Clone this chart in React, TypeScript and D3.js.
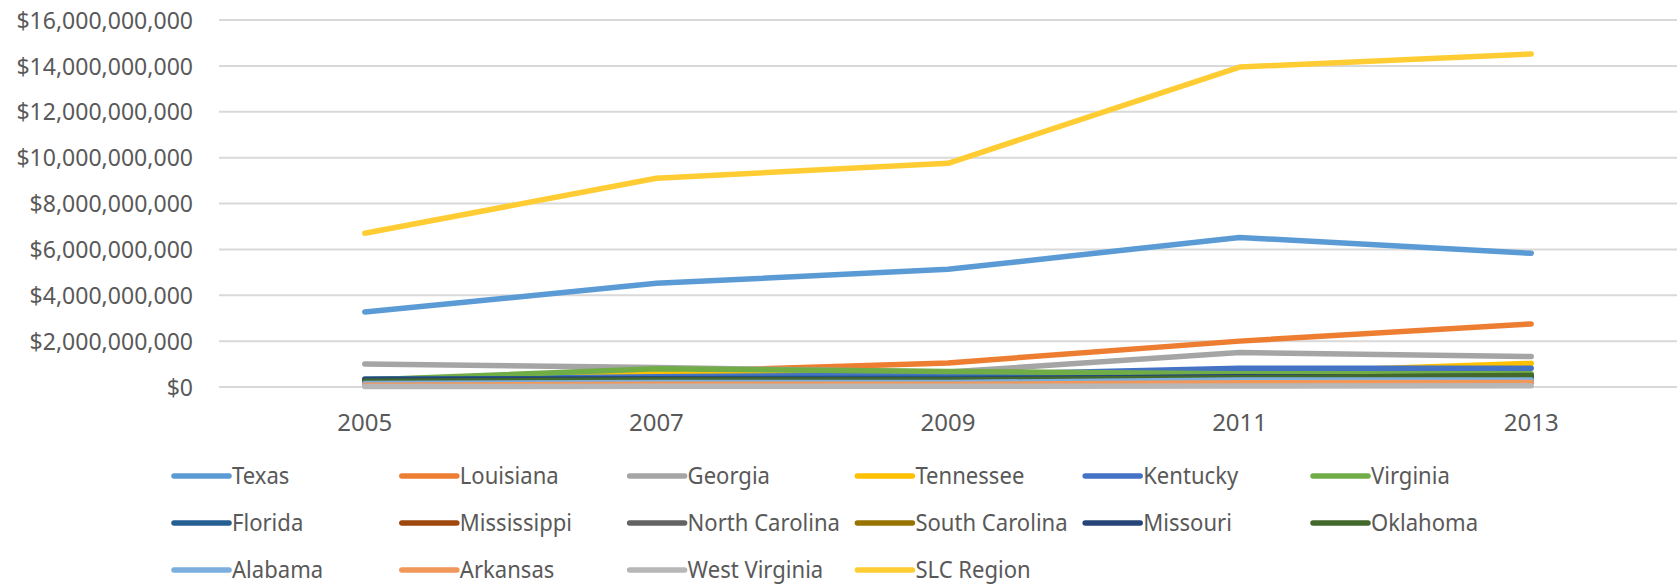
import * as d3 from "d3";
import React from "react";

// years on the category axis
const years: string[] = ["2005", "2007", "2009", "2011", "2013"];

// values in billions of dollars
const texas = [3.27, 4.52, 5.13, 6.52, 5.83];
const louisiana = [0.3, 0.65, 1.05, 2.0, 2.75];
const georgia = [1.0, 0.85, 0.65, 1.5, 1.33];
const tennessee = [0.25, 0.62, 0.45, 0.6, 1.03];
const kentucky = [0.32, 0.45, 0.52, 0.82, 0.82];
const virginia = [0.3, 0.8, 0.68, 0.58, 0.58];
const florida = [0.35, 0.36, 0.38, 0.42, 0.48];
const mississippi = [0.12, 0.15, 0.18, 0.2, 0.22];
const northCarolina = [0.28, 0.3, 0.3, 0.35, 0.4];
const southCarolina = [0.2, 0.25, 0.25, 0.3, 0.35];
const missouri = [0.3, 0.35, 0.33, 0.45, 0.45];
const oklahoma = [0.25, 0.3, 0.3, 0.4, 0.5];
const alabama = [0.15, 0.2, 0.2, 0.3, 0.3];
const arkansas = [0.08, 0.12, 0.12, 0.18, 0.2];
const westVirginia = [0.02, 0.03, 0.03, 0.04, 0.05];
const slcRegion = [6.7, 9.1, 9.75, 13.95, 14.52];

const seriesNames: string[] = [
    "Texas", "Louisiana", "Georgia", "Tennessee", "Kentucky", "Virginia",
    "Florida", "Mississippi", "North Carolina", "South Carolina", "Missouri", "Oklahoma",
    "Alabama", "Arkansas", "West Virginia", "SLC Region",
];
const seriesValues: number[][] = [
    texas, louisiana, georgia, tennessee, kentucky, virginia,
    florida, mississippi, northCarolina, southCarolina, missouri, oklahoma,
    alabama, arkansas, westVirginia, slcRegion,
];
const seriesColors: string[] = [
    "#5B9BD5", "#ED7D31", "#A5A5A5", "#FFC000", "#4472C4", "#70AD47",
    "#255E91", "#9E480E", "#636363", "#997300", "#264478", "#43682B",
    "#7CAFDD", "#F1975A", "#B7B7B7", "#FFCD33",
];

const yTicks: number[] = [0, 2, 4, 6, 8, 10, 12, 14, 16];

const W = 1678;
const H = 587;
const FONT = "'Noto Sans', 'Open Sans', sans-serif";
const TEXT = "#595959";

export default function App() {
    const plotLeft = 219;
    const plotRight = 1677;
    const plotTop = 20;
    const plotBottom = 387;

    const x = d3.scalePoint<string>().domain(years).range([plotLeft, plotRight]).padding(0.5);
    const y = d3.scaleLinear().domain([0, 16]).range([plotBottom, plotTop]);

    const line = d3
        .line<number>()
        .x((d, i) => x(years[i]) as number)
        .y(d => y(d));

    const fmt = (v: number) => "$" + d3.format(",")(v * 1e9);

    // legend: 6 columns x 3 rows
    const legX0 = 174;
    const legDX = 227.8;
    const legY0 = 476;
    const legDY = 47;

    return (
        <svg
            width={W}
            height={H}
            style={{ position: "absolute", left: 0, top: 0, background: "#fff" }}
            fontFamily={FONT}
        >
            {/* gridlines + y labels */}
            {yTicks.map(t => (
                <g key={t}>
                    <line x1={plotLeft} x2={plotRight} y1={y(t)} y2={y(t)} stroke="#D9D9D9" strokeWidth={2} />
                    <text
                        transform={`translate(193,${y(t)}) scale(0.96,1)`}
                        dy="0.36em"
                        textAnchor="end"
                        fontSize={24}
                        fill={TEXT}
                    >
                        {fmt(t)}
                    </text>
                </g>
            ))}

            {/* x labels */}
            {years.map(yr => (
                <text key={yr} x={x(yr)} y={431} textAnchor="middle" fontSize={24} fill={TEXT}>
                    {yr}
                </text>
            ))}

            {/* lines */}
            {seriesValues.map((vals, i) => (
                <path
                    key={seriesNames[i]}
                    d={line(vals) || ""}
                    fill="none"
                    stroke={seriesColors[i]}
                    strokeWidth={5.5}
                    strokeLinecap="round"
                    strokeLinejoin="round"
                />
            ))}

            {/* legend */}
            {seriesNames.map((name, i) => {
                const lx = legX0 + (i % 6) * legDX;
                const ly = legY0 + Math.floor(i / 6) * legDY;
                return (
                    <g key={name}>
                        <line
                            x1={lx}
                            x2={lx + 55}
                            y1={ly}
                            y2={ly}
                            stroke={seriesColors[i]}
                            strokeWidth={5.5}
                            strokeLinecap="round"
                        />
                        <text
                            transform={`translate(${lx + 58},${ly}) scale(0.92,1)`}
                            dy="0.34em"
                            fontSize={24}
                            fill={TEXT}
                        >
                            {name}
                        </text>
                    </g>
                );
            })}
        </svg>
    );
}
